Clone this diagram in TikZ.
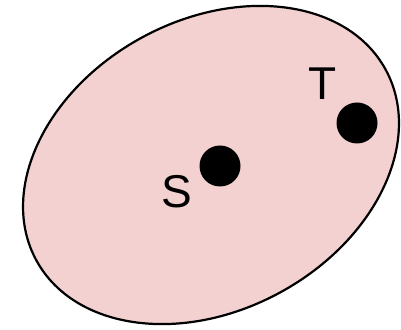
\documentclass[tikz,border=0pt]{standalone}
\usepackage{fontspec}
\setmainfont{Liberation Sans}
\usepackage{tikz}
\usetikzlibrary{
    shapes.geometric,
    positioning
}
\usepackage{xcolor}
\definecolor{regionpink}{RGB}{242,209,208}
\tikzstyle{region} = [
    ellipse,
    draw=black,
    fill=regionpink,
    line width=2.2pt,
    minimum width=398pt,
    minimum height=290pt,
    inner sep=0pt
]
\tikzstyle{vertex} = [
    circle,
    fill=black,
    minimum size=41pt,
    inner sep=0pt
]
\tikzstyle{vlabel} = [
    inner sep=0pt,
    font=\fontsize{46}{50}\selectfont
]

\begin{document}
\begin{tikzpicture}[x=1pt, y=1pt]
        \useasboundingbox (0,0) rectangle (401,329);

        % set region (tilted)
        \node[region, rotate=28.7] (set) at (211,164) {};

        % vertices
        \node[vertex] (s) at (220,163) {};
        \node[vertex] (t) at (357,206) {};

        % labels
        \node[vlabel] (slabel) at (177,137) {S};
        \node[vlabel] (tlabel) at (323,245) {T};
    \end{tikzpicture}
\end{document}
